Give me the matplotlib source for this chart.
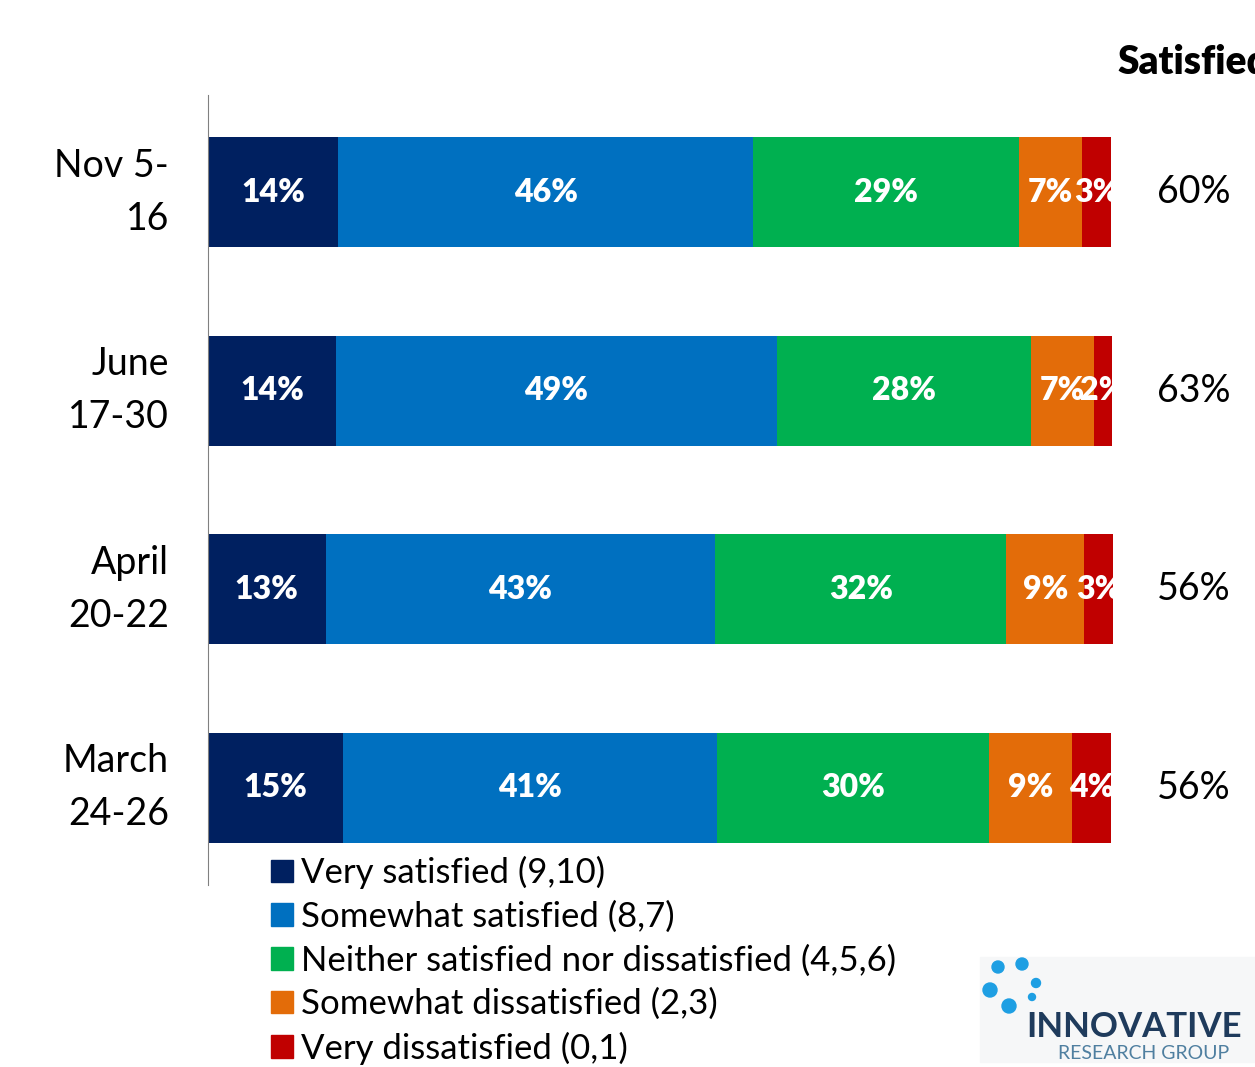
import numpy as np
import matplotlib.pyplot as plt
from matplotlib.patches import Patch, Rectangle, Circle
from matplotlib.transforms import blended_transform_factory

plt.rcParams['font.family'] = ['Lato', 'DejaVu Sans']

# data
periods = ['Nov 5-\n16', 'June\n17-30', 'April\n20-22', 'March\n24-26']
categories = ['Very satisfied (9,10)', 'Somewhat satisfied (8,7)',
              'Neither satisfied nor dissatisfied (4,5,6)',
              'Somewhat dissatisfied (2,3)', 'Very dissatisfied (0,1)']
very_sat = [14.4, 14.2, 13.0, 14.9]
some_sat = [45.9, 48.7, 43.1, 41.4]
neither = [29.4, 28.1, 32.2, 30.1]
some_dis = [7.0, 7.0, 8.6, 9.2]
very_dis = [3.2, 2.0, 3.2, 4.3]
satisfied_total = ['60%', '63%', '56%', '56%']

colors = ['#002060', '#0070C0', '#00B050', '#E36C09', '#C00000']
series = [very_sat, some_sat, neither, some_dis, very_dis]

fig = plt.figure(figsize=(12.55, 10.67), dpi=100)
ax = fig.add_axes([208/1255, 1-885/1067, (1113-208)/1255, (885-95)/1067])

y = np.arange(len(periods))
left = np.zeros(len(periods))
for vals, col, name in zip(series, colors, categories):
    vals = np.array(vals)
    ax.barh(y, vals, left=left, height=0.556, color=col, label=name)
    for yi, l, v in zip(y, left, vals):
        ax.text(l + v/2, yi, f'{v:.0f}%', ha='center', va='center',
                color='white', fontsize=23, fontweight='heavy', clip_on=True)
    left += vals

ax.set_xlim(0, left.max())
ax.set_ylim(3.49, -0.49)
ax.set_yticks(y)
ax.set_yticklabels(periods, fontsize=27, linespacing=1.6, ha='right', va='center')
ax.tick_params(axis='y', length=0, pad=28)
ax.set_xticks([])
for s in ['top', 'right', 'bottom']:
    ax.spines[s].set_visible(False)
ax.spines['left'].set_color('#808080')

# satisfied column
tr = blended_transform_factory(fig.transFigure, ax.transData)
for yi, t in zip(y, satisfied_total):
    ax.text(1157/1255, yi, t, transform=tr, ha='left', va='center',
            fontsize=27, clip_on=False)
fig.text(1117/1255, 1-62/1067, 'Satisfied', ha='left', va='center',
         fontsize=28, fontweight='heavy')

# legend
handles = [Patch(color=c, label=n) for c, n in zip(colors, categories)]
fig.legend(handles=handles, loc='upper left',
           bbox_to_anchor=(271/1255, 1-856/1067), frameon=False,
           fontsize=25, handlelength=0.62, handleheight=0.62,
           handletextpad=0.25, labelspacing=0.33, borderpad=0, borderaxespad=0)

# logo
W, H = 1255, 1067
fig.patches.append(Rectangle((980/W, 1-1062/H), (W-980)/W, 105/H,
                             transform=fig.transFigure, color='#F6F7F8', zorder=0))
dots = [(998, 967, 6), (1022, 964, 6), (1036, 983, 4.5), (990, 990, 7),
        (1009, 1006, 7), (1032, 997, 3.5)]
for dx, dy, r in dots:
    fig.patches.append(Circle((dx, H - dy), r, transform=None,
                              color='#1E9FE3', zorder=1))
fig.text(1026/W, 1-1037/H, 'INNOVATIVE', ha='left', va='baseline',
         fontsize=25, fontweight='bold', color='#1F3B5C')
fig.text(1058/W, 1-1059/H, 'RESEARCH GROUP', ha='left', va='baseline',
         fontsize=14, color='#4F7FA0')

fig.savefig('out.png', dpi=100)
